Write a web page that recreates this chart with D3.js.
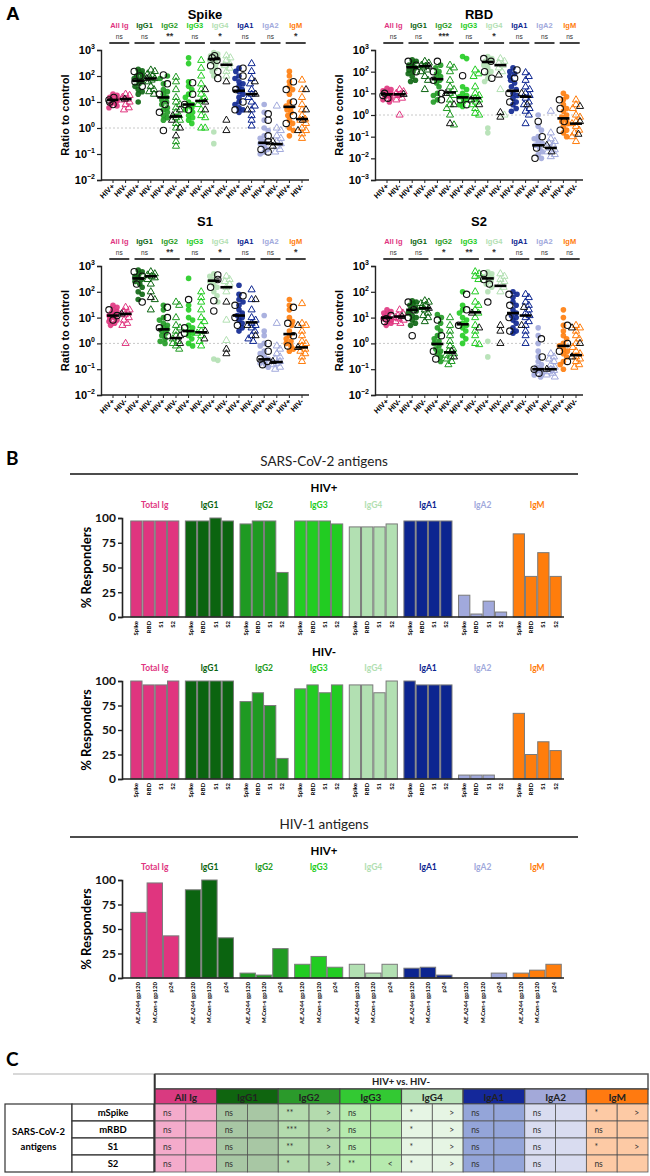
<!DOCTYPE html>
<html>
<head>
<meta charset="utf-8">
<script src="https://cdn.jsdelivr.net/npm/d3@7"></script>
<style>
body { margin: 0; background: #fff; }
svg { display: block; }
</style>
</head>
<body>
<svg id="fig" width="650" height="1176"></svg>
<script>
// ---------- shared categories ----------
const isotypes = ["All Ig", "IgG1", "IgG2", "IgG3", "IgG4", "IgA1", "IgA2", "IgM"];
const barGroups = ["Total Ig", "IgG1", "IgG2", "IgG3", "IgG4", "IgA1", "IgA2", "IgM"];
const tableGroups = ["All Ig", "IgG1", "IgG2", "IgG3", "IgG4", "IgA1", "IgA2", "IgM"];
const statusLabels = ["HIV+", "HIV-"];
const isoColors = ["#e0357f", "#0b6410", "#1f9a22", "#22cc22", "#b2e0b2", "#0c2590", "#a1a9dc", "#ff7d0c"];

// ---------- panel A: ratio to control (HIV+ circles, HIV- triangles) ----------
const spikePos = [
  [20, 18, 15, 14, 13, 12, 11, 10, 9, 8, 7, 6],
  [180, 160, 140, 120, 100, 90, 80, 70, 60, 50, 40, 30, 25, 20, 10],
  [100, 80, 50, 30, 25, 20, 15, 12, 10, 8, 6, 5, 4, 3, 2.5, 2],
  [500, 300, 60, 40, 30, 20, 15, 10, 8, 7, 6, 5, 4, 3, 2.5, 2, 1.5],
  [800, 700, 600, 500, 450, 400, 350, 300, 200, 150, 100, 0.7, 0.25],
  [200, 150, 100, 80, 60, 50, 40, 30, 25, 20, 15, 10, 8, 6, 5, 4],
  [8, 4, 2, 1, 0.8, 0.5, 0.4, 0.3, 0.25, 0.2, 0.15, 0.12, 0.1],
  [150, 100, 60, 40, 30, 20, 10, 7, 6, 5, 4, 3, 2, 1.5, 1, 0.8, 0.5]
];
const spikePosBlack = [[12, 10, 15, 8], [150, 100, 60, 40], [110, 50, 20, 8, 4, 0.8], [55, 20, 8, 5], [600, 500, 400, 250, 150, 80], [200, 100, 30, 10, 5], [3.5, 2, 0.5, 0.3, 0.15, 0.12], [60, 30, 10, 3, 1.5]];
const spikeNeg = [
  [20, 18, 15, 13, 12, 10, 8, 6, 5],
  [170, 150, 120, 100, 90, 80, 70, 60, 40, 30, 25, 20],
  [90, 60, 30, 15, 10, 8, 6, 4, 3, 2.5, 2, 1.5, 1, 0.3, 0.2],
  [400, 200, 100, 50, 30, 20, 15, 11, 8, 5, 3, 2.5, 1, 1],
  [600, 500, 400, 300, 250, 200, 150, 100],
  [300, 150, 80, 50, 30, 20, 15, 10, 7, 5, 3, 2, 1.2],
  [7, 1, 0.8, 0.5, 0.4, 0.3, 0.25, 0.2, 0.15, 0.12],
  [70, 30, 15, 8, 5, 3, 2.2, 2, 1.5, 1, 0.8, 0.6, 0.4]
];
const spikeNegBlack = [[13], [80], [5, 3, 2, 1, 0.5], [30, 10, 5], [2, 0.8, 60], [60, 20, 5], [0.3, 0.2], [30, 5, 2, 0.8]];
const spikeMedian = [12, 13, 65, 80, 15, 2.8, 8, 11, 450, 270, 27, 20, 0.27, 0.24, 6.5, 2.2];
const spikeSig = ["ns", "ns", "**", "ns", "*", "ns", "ns", "*"];

const rbdPos = [
  [17, 15, 13, 11, 10, 9, 8, 7, 6, 5, 4],
  [350, 300, 250, 200, 170, 150, 120, 100, 80, 60, 40, 35],
  [200, 150, 100, 80, 60, 50, 40, 30, 20, 10, 8, 5, 4],
  [500, 400, 20, 15, 10, 8, 7, 6, 5, 4, 3, 2.5],
  [500, 400, 350, 300, 250, 200, 150, 100, 80, 50, 35, 0.25, 0.15],
  [150, 100, 80, 60, 40, 30, 20, 15, 10, 8, 6, 4, 3, 2, 1.5],
  [1, 0.3, 0.2, 0.1, 0.08, 0.06, 0.05, 0.04, 0.03, 0.02, 0.015, 0.01],
  [10, 7, 5, 3, 2, 1.5, 1, 0.8, 0.6, 0.5, 0.4, 0.3, 0.2, 0.15, 0.1]
];
const rbdPosBlack = [[10, 8, 6], [300, 200, 100], [300, 100, 40, 10, 5], [65, 5, 3], [400, 300, 100, 50], [120, 50, 10, 4], [0.5, 0.1, 0.03, 0.01], [5, 2, 0.5, 0.2]];
const rbdNeg = [
  [15, 12, 10, 9, 8, 6, 5, 1],
  [300, 250, 200, 180, 150, 120, 100, 60, 40, 15],
  [200, 150, 100, 40, 20, 15, 10, 8, 5, 3, 2, 1, 0.35],
  [120, 80, 60, 20, 10, 8, 6, 5, 4, 3, 2, 1.2, 1],
  [400, 300, 250, 200, 150, 100, 15, 1],
  [90, 60, 40, 20, 15, 10, 8, 6, 4, 3, 2, 1.5, 1, 0.4],
  [1.5, 0.15, 0.08, 0.06, 0.05, 0.04, 0.03, 0.025, 0.02, 0.015, 0.012],
  [5, 3, 2, 1, 0.8, 0.5, 0.4, 0.3, 0.2, 0.15, 0.1, 0.06]
];
const rbdNegBlack = [[9], [180], [0.4, 10, 3], [5, 3], [1.3, 0.8, 70], [10, 3], [0.04, 0.02], [2.5, 0.5, 0.13]];
const rbdMedian = [9, 9, 160, 180, 45, 11, 6.5, 6, 280, 200, 13, 7, 0.04, 0.03, 0.7, 0.4];
const rbdSig = ["ns", "ns", "***", "ns", "*", "ns", "ns", "ns"];

const s1Pos = [
  [30, 25, 20, 17, 15, 13, 12, 11, 10, 9, 8, 7, 6, 5],
  [700, 600, 500, 400, 350, 300, 250, 200, 150, 100, 80, 50],
  [30, 20, 10, 8, 6, 5, 4, 3.5, 3, 2.5, 2, 1.5, 1.2, 1],
  [330, 30, 20, 10, 8, 5, 4, 3, 2.5, 2, 1.5, 1, 0.8],
  [500, 400, 300, 250, 200, 150, 100, 70, 40, 0.25, 0.22],
  [180, 80, 50, 40, 30, 20, 15, 12, 10, 8, 6, 4, 3],
  [12, 3, 2, 1, 0.8, 0.5, 0.4, 0.3, 0.25, 0.2, 0.17, 0.15, 0.12],
  [50, 30, 20, 10, 7, 5, 3, 2, 1.5, 1.2, 1, 0.8, 0.6, 0.5]
];
const s1PosBlack = [[20, 12, 8], [600, 400, 200, 40], [25, 10, 4, 2], [50, 4, 2.5], [450, 300, 150, 45, 18], [70, 30, 10, 5], [1, 0.5, 0.25, 0.2, 0.15], [25, 6, 2, 0.8]];
const s1Neg = [
  [25, 20, 17, 15, 13, 10, 8, 6, 5, 1],
  [600, 500, 450, 400, 350, 300, 200, 100, 50, 20],
  [40, 30, 10, 5, 4, 3, 2, 1.5, 1.2, 1, 0.8, 0.6],
  [100, 60, 40, 20, 10, 7, 5, 3, 2.5, 2, 1.2, 0.8],
  [400, 300, 250, 200, 150, 100, 8, 1.3],
  [120, 50, 20, 10, 8, 6, 5, 4, 3, 2, 1.5, 1.2],
  [6, 0.8, 0.6, 0.4, 0.3, 0.25, 0.2, 0.17, 0.15, 0.12, 0.1],
  [35, 6, 5, 3, 2, 1.2, 1, 0.8, 0.6, 0.5, 0.4, 0.3, 0.2]
];
const s1NegBlack = [[14], [60], [2, 1], [3, 1.5], [40, 0.6, 0.4], [50, 5, 2], [0.2], [5, 0.7]];
const s1Median = [12, 14, 330, 400, 3.5, 1.6, 3, 2.7, 270, 150, 12, 6.5, 0.24, 0.19, 2.3, 0.7];
const s1Sig = ["ns", "ns", "**", "ns", "*", "ns", "ns", "*"];

const s2Pos = [
  [20, 17, 15, 13, 11, 10, 9, 8, 7, 6, 5],
  [45, 40, 35, 30, 25, 20, 18, 15, 12, 10, 8, 6, 5],
  [13, 10, 6, 4, 3, 2, 1.5, 1.2, 1, 0.8, 0.6, 0.5, 0.4, 0.3, 0.2],
  [100, 30, 20, 15, 10, 8, 6, 5, 4, 3, 2, 1.5, 1],
  [600, 500, 450, 400, 350, 300, 250, 200, 150, 100, 1.2, 0.3],
  [100, 80, 60, 40, 30, 20, 15, 12, 10, 8, 6, 4, 3, 2.5],
  [4, 2, 1, 0.5, 0.3, 0.2, 0.15, 0.12, 0.1, 0.09, 0.08, 0.07, 0.06, 0.05],
  [20, 10, 5, 3, 2, 1.5, 1, 0.8, 0.6, 0.5, 0.4, 0.3, 0.2, 0.15, 0.1]
];
const s2PosBlack = [[12, 9, 7], [40, 20, 10, 2], [8, 2, 0.5, 0.25], [80, 20, 5], [500, 300, 200, 40], [80, 30, 10, 3], [1.5, 0.3, 0.1, 0.07], [5, 1, 0.5, 0.2]];
const s2Neg = [
  [20, 15, 12, 10, 9, 8, 7, 6],
  [45, 40, 35, 30, 25, 20, 15, 12, 10, 7],
  [10, 5, 3, 2, 1.2, 0.8, 0.6, 0.5, 0.4, 0.35, 0.3, 0.25, 0.2, 0.15],
  [600, 500, 400, 300, 100, 40, 30, 20, 15, 10, 5, 3, 2, 1, 0.9],
  [500, 400, 300, 250, 200, 150, 100],
  [80, 60, 40, 30, 20, 15, 12, 10, 7, 5, 3, 2, 1],
  [0.4, 0.3, 0.25, 0.2, 0.15, 0.12, 0.1, 0.09, 0.08, 0.07, 0.06, 0.05],
  [5, 4, 3, 2, 1.5, 1, 0.7, 0.5, 0.4, 0.3, 0.25, 0.2, 0.15, 0.12]
];
const s2NegBlack = [[11], [23], [0.5, 0.3], [15, 4], [5, 3, 1], [25, 5], [0.1], [4, 1, 0.3]];
const s2Median = [10, 11, 20, 23, 0.95, 0.45, 5.5, 16, 330, 170, 15, 12, 0.1, 0.1, 0.8, 0.35];
const s2Sig = ["ns", "ns", "*", "**", "*", "ns", "ns", "ns"];

// ---------- panel B: % responders ----------
const sarsAntigens = ["Spike", "RBD", "S1", "S2"];
const hivAntigens = ["AE.A244 gp120", "M.Con-s gp120", "p24"];
const sarsRespHivPos = [[97, 97, 97, 97], [97, 97, 100, 97], [94, 97, 97, 45], [97, 97, 97, 94], [91, 91, 91, 94], [97, 97, 97, 97], [22, 3, 16, 5], [84, 41, 65, 41]];
const sarsRespHivNeg = [[100, 96, 96, 100], [100, 100, 100, 100], [79, 88, 75, 21], [92, 96, 88, 96], [96, 96, 88, 100], [100, 96, 96, 96], [4, 4, 4, 0], [67, 25, 38, 29]];
const hivRespHivPos = [[67, 97, 43], [90, 100, 41], [5, 3, 30], [14, 22, 11], [14, 5, 14], [10, 11, 3], [0, 0, 5], [5, 8, 14]];
const respTicks = [0, 25, 50, 75, 100];

// ---------- panel C: table ----------
const tableRows = ["mSpike", "mRBD", "S1", "S2"];
const tableSig = [
  ["ns", "ns", "**", "ns", "*", "ns", "ns", "*"],
  ["ns", "ns", "***", "ns", "*", "ns", "ns", "ns"],
  ["ns", "ns", "**", "ns", "*", "ns", "ns", "*"],
  ["ns", "ns", "*", "**", "*", "ns", "ns", "ns"]
];
const tableDir = [
  ["", "", ">", "", ">", "", "", ">"],
  ["", "", ">", "", ">", "", "", ""],
  ["", "", ">", "", ">", "", "", ">"],
  ["", "", ">", "<", ">", "", "", ""]
];
const headColors = ["#d93a80", "#0f650f", "#2b9a2b", "#33c933", "#b9e3b9", "#14289a", "#a3a9d9", "#ff7a10"];
const cellColors = ["#f4abcb", "#a8c7a4", "#b4dbae", "#b6eaae", "#e6f5e4", "#94a5d9", "#d9dcf0", "#fdcaa5"];

const svg = d3.select("#fig");
const fA = "'Liberation Sans', Arial, sans-serif";
const fB = "Lato, 'Open Sans', sans-serif";

// panel letters
[["A", 6, 20], ["B", 6, 465], ["C", 6, 1066]].forEach(([t, x, y]) => {
  svg.append("text").attr("x", x).attr("y", y).text(t)
    .attr("font-family", t === "A" ? fA : fB).attr("font-weight", "bold").attr("font-size", 19);
});

// deterministic beeswarm offsets, kept narrow like the original jitter
function swarm(points, r) {
  const offs = [0, 1.6, -1.6, 3.2, -3.2, 0.8, -0.8, 2.4, -2.4, 4, -4];
  const placed = [];
  points.slice().sort((a, b) => a.py - b.py).forEach(p => {
    let best = 0, bestD = -1;
    for (const o of offs) {
      let dmin = Infinity;
      for (const q of placed) {
        const d = Math.hypot(q.dx - o, q.py - p.py);
        if (d < dmin) dmin = d;
      }
      if (dmin >= 2 * r) { best = o; break; }
      if (dmin > bestD) { bestD = dmin; best = o; }
    }
    p.dx = best;
    placed.push(p);
  });
  return points;
}

function drawScatter(cfg) {
  const g = svg.append("g");
  const y = d3.scaleLog().domain(cfg.dom).range([cfg.y1, cfg.y0]);
  const cols = d3.range(16);
  const x = d3.scalePoint().domain(cols).range([cfg.x0 + 12, cfg.x0 + 12 + 15 * 12.6]);
  const xEnd = cfg.x0 + 208;

  g.append("text").attr("x", cfg.x0 + 104).attr("y", cfg.titleY).attr("text-anchor", "middle")
    .attr("font-family", fA).attr("font-weight", "bold").attr("font-size", 13).text(cfg.title);

  g.append("line").attr("x1", cfg.x0).attr("x2", xEnd).attr("y1", y(1)).attr("y2", y(1))
    .attr("stroke", "#c8c8c8").attr("stroke-width", 1).attr("stroke-dasharray", "2,2");

  // y axis
  const lo = Math.round(Math.log10(cfg.dom[0])), hi = Math.round(Math.log10(cfg.dom[1]));
  const exps = d3.range(lo, hi + 1);
  const ya = g.append("g").attr("transform", `translate(${cfg.x0},0)`)
    .call(d3.axisLeft(y).tickValues(exps.map(e => Math.pow(10, e))).tickFormat("").tickSize(4));
  ya.select(".domain").attr("stroke", "#222").attr("stroke-width", 1.4);
  ya.selectAll(".tick line").attr("stroke", "#222").attr("stroke-width", 1.2);
  exps.forEach(e => {
    const t = g.append("text").attr("x", cfg.x0 - 6).attr("y", y(Math.pow(10, e)) + 4)
      .attr("text-anchor", "end").attr("font-family", fA).attr("font-weight", "bold").attr("font-size", 11);
    t.append("tspan").text("10");
    t.append("tspan").attr("dy", -5).attr("font-size", 7).text(String(e).replace("-", "\u2212"));
  });
  g.append("text").attr("transform", `translate(${cfg.x0 - 32},${(cfg.y0 + cfg.y1) / 2}) rotate(-90)`)
    .attr("text-anchor", "middle").attr("font-family", fA).attr("font-weight", "bold").attr("font-size", 11)
    .text("Ratio to control");

  // x axis
  g.append("line").attr("x1", cfg.x0).attr("x2", xEnd).attr("y1", cfg.y1).attr("y2", cfg.y1)
    .attr("stroke", "#222").attr("stroke-width", 1.4);
  cols.forEach(c => {
    g.append("line").attr("x1", x(c)).attr("x2", x(c)).attr("y1", cfg.y1).attr("y2", cfg.y1 + 3)
      .attr("stroke", "#222").attr("stroke-width", 1);
    g.append("text").attr("transform", `translate(${x(c) + 2},${cfg.y1 + 7}) rotate(-45)`)
      .attr("text-anchor", "end").attr("font-family", fA).attr("font-weight", "bold").attr("font-size", 7.5)
      .text(statusLabels[c % 2]);
  });

  // group labels + significance
  isotypes.forEach((iso, i) => {
    const cx = (x(2 * i) + x(2 * i + 1)) / 2;
    g.append("text").attr("x", cx).attr("y", cfg.y0 - 22).attr("text-anchor", "middle")
      .attr("font-family", fA).attr("font-weight", "bold").attr("font-size", 7.5)
      .attr("fill", isoColors[i]).text(iso);
    g.append("text").attr("x", cx).attr("y", cfg.y0 - 11).attr("text-anchor", "middle")
      .attr("font-family", fA).attr("font-size", cfg.sig[i] === "ns" ? 6.5 : 9)
      .attr("font-weight", cfg.sig[i] === "ns" ? "normal" : "bold")
      .attr("fill", "#333").text(cfg.sig[i]);
    g.append("line").attr("x1", cx - 10).attr("x2", cx + 10).attr("y1", cfg.y0 - 7).attr("y2", cfg.y0 - 7)
      .attr("stroke", "#111").attr("stroke-width", 1.6);
  });

  const tri = d3.symbol().type(d3.symbolTriangle).size(22);
  isotypes.forEach((iso, i) => {
    [0, 1].forEach(s => {
      const c = 2 * i + s;
      const col = s === 0 ? cfg.pos[i] : cfg.neg[i];
      const blk = s === 0 ? cfg.posBlack[i] : cfg.negBlack[i];
      const pts = col.map(v => ({ v, k: false, py: y(v) })).concat(blk.map(v => ({ v, k: true, py: y(v) })));
      swarm(pts, 2.2);
      const gc = g.append("g");
      const draw = (arr) => {
        if (s === 0) {
          gc.selectAll(null).data(arr).enter().append("circle")
            .attr("cx", d => x(c) + d.dx).attr("cy", d => d.py).attr("r", d => d.k ? 3.2 : 2.8)
            .attr("fill", d => d.k ? "none" : isoColors[i]).attr("fill-opacity", 0.9)
            .attr("stroke", d => d.k ? "#111" : "none").attr("stroke-width", 1.1);
        } else {
          gc.selectAll(null).data(arr).enter().append("path")
            .attr("d", tri).attr("transform", d => `translate(${x(c) + d.dx},${d.py})`)
            .attr("fill", "none").attr("stroke", d => d.k ? "#111" : isoColors[i]).attr("stroke-width", 1);
        }
      };
      draw(pts.filter(d => !d.k));
      draw(pts.filter(d => d.k));
      gc.append("line").attr("x1", x(c) - 6).attr("x2", x(c) + 6)
        .attr("y1", y(cfg.median[c])).attr("y2", y(cfg.median[c]))
        .attr("stroke", "#000").attr("stroke-width", 2.6);
    });
  });
}

drawScatter({ title: "Spike", titleY: 19, x0: 101, y0: 50, y1: 180, dom: [1e-2, 1e3], pos: spikePos, posBlack: spikePosBlack, neg: spikeNeg, negBlack: spikeNegBlack, median: spikeMedian, sig: spikeSig });
drawScatter({ title: "RBD", titleY: 19, x0: 375, y0: 50, y1: 180, dom: [1e-3, 1e3], pos: rbdPos, posBlack: rbdPosBlack, neg: rbdNeg, negBlack: rbdNegBlack, median: rbdMedian, sig: rbdSig });
drawScatter({ title: "S1", titleY: 226, x0: 101, y0: 266, y1: 395, dom: [1e-2, 1e3], pos: s1Pos, posBlack: s1PosBlack, neg: s1Neg, negBlack: s1NegBlack, median: s1Median, sig: s1Sig });
drawScatter({ title: "S2", titleY: 226, x0: 375, y0: 266, y1: 395, dom: [1e-2, 1e3], pos: s2Pos, posBlack: s2PosBlack, neg: s2Neg, negBlack: s2NegBlack, median: s2Median, sig: s2Sig });

// ---------- panel B ----------
function sectionTitle(text, y) {
  svg.append("text").attr("x", 324).attr("y", y).attr("text-anchor", "middle")
    .attr("font-family", fB).attr("font-size", 13.5).attr("fill", "#222").text(text);
  svg.append("line").attr("x1", 70).attr("x2", 578).attr("y1", y + 8).attr("y2", y + 8)
    .attr("stroke", "#111").attr("stroke-width", 1.6);
}

function drawBars(cfg) {
  const g = svg.append("g");
  const x = d3.scaleBand().domain(barGroups).range([128, 564]).paddingInner(0.12).paddingOuter(0.05);
  const xi = d3.scaleBand().domain(cfg.antigens).range([0, x.bandwidth()]).paddingInner(cfg.antigens.length === 4 ? 0.08 : 0.06);
  const y = d3.scaleLinear().domain([0, 100]).range([cfg.yBot, cfg.yTop]);

  g.append("text").attr("x", 324).attr("y", cfg.subY).attr("text-anchor", "middle")
    .attr("font-family", fB).attr("font-weight", "bold").attr("font-size", 11.5).text(cfg.sub);

  barGroups.forEach((grp, i) => {
    g.append("text").attr("x", x(grp) + x.bandwidth() / 2).attr("y", cfg.yTop - 10).attr("text-anchor", "middle")
      .attr("font-family", fB).attr("font-weight", "bold").attr("font-size", 8.5)
      .attr("fill", isoColors[i]).text(grp);
    g.selectAll(null).data(cfg.values[i]).enter().append("rect")
      .attr("x", (d, j) => x(grp) + xi(cfg.antigens[j]))
      .attr("y", d => y(d)).attr("width", xi.bandwidth()).attr("height", d => y(0) - y(d))
      .attr("fill", isoColors[i]).attr("stroke", "#7a7a7a").attr("stroke-width", 1);
    cfg.antigens.forEach(a => {
      g.append("text")
        .attr("transform", `translate(${x(grp) + xi(a) + xi.bandwidth() / 2 + 2},${cfg.yBot + 4}) rotate(-90)`)
        .attr("text-anchor", "end").attr("font-family", fB).attr("font-weight", "bold").attr("font-size", 6)
        .text(a);
    });
  });

  const ya = g.append("g").attr("transform", "translate(122,0)")
    .call(d3.axisLeft(y).tickValues(respTicks).tickSize(4).tickPadding(2));
  ya.select(".domain").attr("stroke", "#222").attr("stroke-width", 1.6);
  ya.selectAll(".tick line").attr("stroke", "#222").attr("stroke-width", 1.4);
  ya.selectAll(".tick text").attr("font-family", fB).attr("font-weight", "bold").attr("font-size", 12).attr("fill", "#111");
  g.append("line").attr("x1", 122).attr("x2", 564).attr("y1", cfg.yBot).attr("y2", cfg.yBot)
    .attr("stroke", "#222").attr("stroke-width", 1.6);
  g.append("text").attr("transform", `translate(91,${(cfg.yTop + cfg.yBot) / 2}) rotate(-90)`)
    .attr("text-anchor", "middle").attr("font-family", fB).attr("font-weight", "bold").attr("font-size", 13)
    .text("% Responders");
}

sectionTitle("SARS-CoV-2 antigens", 466);
drawBars({ sub: "HIV+", subY: 492, yTop: 518, yBot: 617, antigens: sarsAntigens, values: sarsRespHivPos });
drawBars({ sub: "HIV-", subY: 656, yTop: 681, yBot: 779, antigens: sarsAntigens, values: sarsRespHivNeg });
sectionTitle("HIV-1 antigens", 829);
drawBars({ sub: "HIV+", subY: 855, yTop: 880, yBot: 978, antigens: hivAntigens, values: hivRespHivPos });

// ---------- panel C ----------
(function drawTable() {
  const g = svg.append("g").attr("font-family", fB);
  const x = d3.scaleBand().domain(tableGroups).range([155, 648]);
  const yr = d3.scaleBand().domain(tableRows).range([1104, 1172]);
  const sub = x.bandwidth() / 2;

  g.append("line").attr("x1", 13).attr("x2", 154).attr("y1", 1074).attr("y2", 1074)
    .attr("stroke", "#d8d8d8").attr("stroke-width", 2);
  g.append("rect").attr("x", 155).attr("y", 1074).attr("width", 493).attr("height", 15)
    .attr("fill", "#fff").attr("stroke", "#555").attr("stroke-width", 1.5);
  g.append("text").attr("x", 401).attr("y", 1085).attr("text-anchor", "middle")
    .attr("font-size", 9.5).attr("font-weight", "bold").attr("fill", "#222").text("HIV+ vs. HIV-");

  tableGroups.forEach((grp, i) => {
    g.append("rect").attr("x", x(grp)).attr("y", 1089).attr("width", x.bandwidth()).attr("height", 15)
      .attr("fill", headColors[i]).attr("stroke", "#444").attr("stroke-width", 1.2);
    g.append("text").attr("x", x(grp) + x.bandwidth() / 2).attr("y", 1100.5).attr("text-anchor", "middle")
      .attr("font-size", 10).attr("font-weight", "bold").attr("fill", "#222").text(grp);
    tableRows.forEach((row, r) => {
      [0, 1].forEach(k => {
        g.append("rect").attr("x", x(grp) + k * sub).attr("y", yr(row)).attr("width", sub).attr("height", yr.bandwidth())
          .attr("fill", cellColors[i]).attr("stroke", "#555").attr("stroke-width", 0.8);
      });
      g.append("text").attr("x", x(grp) + 8).attr("y", yr(row) + 12).attr("font-size", 8.5).attr("fill", "#333")
        .text(tableSig[r][i]);
      g.append("text").attr("x", x(grp) + sub + sub / 2 + 4).attr("y", yr(row) + 12).attr("text-anchor", "middle")
        .attr("font-size", 8.5).attr("fill", "#333").text(tableDir[r][i]);
    });
  });

  // left columns
  g.append("rect").attr("x", 5).attr("y", 1104).attr("width", 67).attr("height", 68)
    .attr("fill", "#fff").attr("stroke", "#333").attr("stroke-width", 1.2);
  g.append("text").attr("x", 38.5).attr("y", 1135).attr("text-anchor", "middle").attr("font-size", 9.5)
    .attr("font-weight", "bold").text("SARS-CoV-2");
  g.append("text").attr("x", 38.5).attr("y", 1150).attr("text-anchor", "middle").attr("font-size", 9.5)
    .attr("font-weight", "bold").text("antigens");
  tableRows.forEach(row => {
    g.append("rect").attr("x", 72).attr("y", yr(row)).attr("width", 82).attr("height", yr.bandwidth())
      .attr("fill", "#fff").attr("stroke", "#333").attr("stroke-width", 1.2);
    g.append("text").attr("x", 113).attr("y", yr(row) + 12).attr("text-anchor", "middle")
      .attr("font-size", 9.5).attr("font-weight", "bold").text(row);
  });
  g.append("line").attr("x1", 154.5).attr("x2", 154.5).attr("y1", 1074).attr("y2", 1172)
    .attr("stroke", "#333").attr("stroke-width", 1.6);
})();
</script>
</body>
</html>
